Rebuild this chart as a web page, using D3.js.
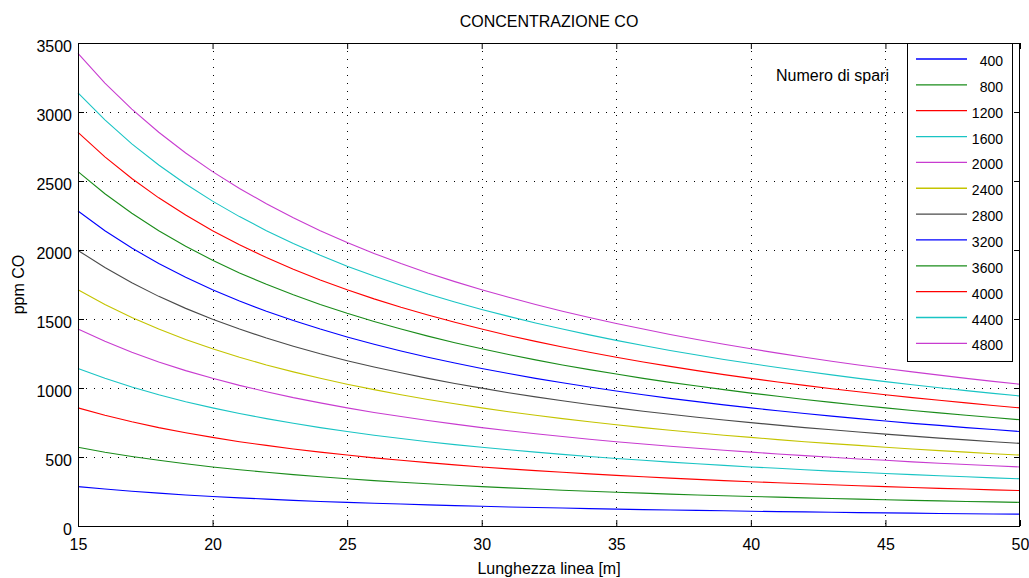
<!DOCTYPE html>
<html>
<head>
<meta charset="utf-8">
<script src="https://cdn.jsdelivr.net/npm/d3@7"></script>
<style>
  body { margin: 0; background: #fff; }
  svg { display: block; font-family: "Liberation Sans", Arial, sans-serif; }
</style>
</head>
<body>
<script>
// lunghezza linea [m]
const lengths = [15, 16, 17, 18, 19, 20, 21, 22, 23, 24, 25, 26, 27, 28, 29, 30, 31, 32, 33, 34,
                 35, 36, 37, 38, 39, 40, 41, 42, 43, 44, 45, 46, 47, 48, 49, 50];

// numero di spari (legend labels)
const shots = ['400', '800', '1200', '1600', '2000', '2400', '2800', '3200', '3600', '4000', '4400', '4800'];

// ppm CO, one array per numero di spari
const co400  = [285, 268, 252, 238, 225, 214, 204, 195, 186, 178, 171, 165, 159, 153, 148, 143, 138, 134, 130, 126, 122, 119, 116, 113, 110, 107, 104, 102, 100, 97, 95, 93, 91, 89, 87, 86];
const co800  = [571, 535, 504, 476, 451, 428, 408, 389, 372, 357, 342, 329, 317, 306, 295, 285, 276, 268, 259, 252, 245, 238, 231, 225, 219, 214, 209, 204, 199, 195, 190, 186, 182, 178, 175, 171];
const co1200 = [856, 803, 755, 713, 676, 642, 611, 584, 558, 535, 514, 494, 476, 459, 443, 428, 414, 401, 389, 378, 367, 357, 347, 338, 329, 321, 313, 306, 299, 292, 285, 279, 273, 268, 262, 257];
const co1600 = [1141, 1070, 1007, 951, 901, 856, 815, 778, 744, 713, 685, 658, 634, 611, 590, 571, 552, 535, 519, 504, 489, 476, 463, 451, 439, 428, 418, 408, 398, 389, 380, 372, 364, 357, 349, 342];
const co2000 = [1427, 1338, 1259, 1189, 1126, 1070, 1019, 973, 930, 892, 856, 823, 793, 764, 738, 713, 690, 669, 648, 629, 611, 594, 578, 563, 549, 535, 522, 510, 498, 486, 476, 465, 455, 446, 437, 428];
const co2400 = [1712, 1605, 1511, 1427, 1352, 1284, 1223, 1167, 1117, 1070, 1027, 988, 951, 917, 886, 856, 828, 803, 778, 755, 734, 713, 694, 676, 658, 642, 626, 611, 597, 584, 571, 558, 546, 535, 524, 514];
const co2800 = [1997, 1873, 1762, 1664, 1577, 1498, 1427, 1362, 1303, 1248, 1198, 1152, 1110, 1070, 1033, 999, 966, 936, 908, 881, 856, 832, 810, 788, 768, 749, 731, 713, 697, 681, 666, 651, 637, 624, 611, 599];
const co3200 = [2283, 2140, 2014, 1902, 1802, 1712, 1630, 1556, 1489, 1427, 1370, 1317, 1268, 1223, 1181, 1141, 1105, 1070, 1038, 1007, 978, 951, 925, 901, 878, 856, 835, 815, 796, 778, 761, 744, 729, 713, 699, 685];
const co3600 = [2568, 2408, 2266, 2140, 2027, 1926, 1834, 1751, 1675, 1605, 1541, 1482, 1427, 1376, 1328, 1284, 1243, 1204, 1167, 1133, 1101, 1070, 1041, 1014, 988, 963, 940, 917, 896, 875, 856, 837, 820, 803, 786, 770];
const co4000 = [2853, 2675, 2518, 2378, 2253, 2140, 2038, 1945, 1861, 1783, 1712, 1646, 1585, 1529, 1476, 1427, 1381, 1338, 1297, 1259, 1223, 1189, 1157, 1126, 1097, 1070, 1044, 1019, 995, 973, 951, 930, 911, 892, 873, 856];
const co4400 = [3139, 2943, 2769, 2616, 2478, 2354, 2242, 2140, 2047, 1962, 1883, 1811, 1744, 1681, 1623, 1569, 1519, 1471, 1427, 1385, 1345, 1308, 1272, 1239, 1207, 1177, 1148, 1121, 1095, 1070, 1046, 1023, 1002, 981, 961, 942];
const co4800 = [3424, 3210, 3021, 2853, 2703, 2568, 2446, 2335, 2233, 2140, 2054, 1975, 1902, 1834, 1771, 1712, 1657, 1605, 1556, 1511, 1467, 1427, 1388, 1352, 1317, 1284, 1253, 1223, 1194, 1167, 1141, 1117, 1093, 1070, 1048, 1027];

const xTicks = [15, 20, 25, 30, 35, 40, 45, 50];
const yTicks = [0, 500, 1000, 1500, 2000, 2500, 3000, 3500];

const allSeries = [co400, co800, co1200, co1600, co2000, co2400, co2800, co3200, co3600, co4000, co4400, co4800];

// old matlab line order
const colors = ['#0000ff', '#1a8c1a', '#ff0000', '#19c4c4', '#c83cd0', '#c4c400', '#4a4a4a'];

const W = 1029, H = 578;
const margin = { top: 43, right: 9, bottom: 52, left: 78 };
const width = W - margin.left - margin.right,
      height = H - margin.top - margin.bottom;

const svg = d3.select('body').append('svg')
    .attr('width', W)
    .attr('height', H);

const g = svg.append('g')
    .attr('transform', `translate(${margin.left},${margin.top})`);

const x = d3.scaleLinear().domain([15, 50]).range([0, width]);
const y = d3.scaleLinear().domain([0, 3500]).range([height, 0]);

// grid
const grid = g.append('g').attr('stroke', '#000').attr('stroke-width', 1)
    .attr('stroke-dasharray', '1,7').attr('shape-rendering', 'crispEdges');
grid.selectAll('.gx').data(xTicks.slice(1, -1)).enter().append('line')
    .attr('x1', d => Math.round(x(d)) + 0.5).attr('x2', d => Math.round(x(d)) + 0.5)
    .attr('y1', 0).attr('y2', height);
grid.selectAll('.gy').data(yTicks.slice(1, -1)).enter().append('line')
    .attr('y1', d => Math.round(y(d)) + 0.5).attr('y2', d => Math.round(y(d)) + 0.5)
    .attr('x1', 0).attr('x2', width);

// series
const line = d3.line()
    .x((d, i) => x(lengths[i]))
    .y(d => y(d));

g.append('g').selectAll('path')
    .data(allSeries)
    .enter().append('path')
    .attr('fill', 'none')
    .attr('stroke', (d, i) => colors[i % colors.length])
    .attr('stroke-width', 1.1)
    .attr('d', line);

// axes, matlab style: ticks inward, mirrored
const tickLen = 6;
const axisStyle = sel => {
  sel.select('.domain').remove();
  sel.selectAll('.tick line').attr('stroke', '#000');
  sel.selectAll('.tick text').attr('fill', '#000').style('font-size', '16px');
};

g.append('g')
    .attr('transform', `translate(0,${height})`)
    .call(d3.axisBottom(x).tickValues(xTicks).tickSize(-tickLen).tickPadding(13))
    .call(axisStyle);
g.append('g')
    .call(d3.axisTop(x).tickValues(xTicks).tickSize(-tickLen).tickFormat(''))
    .call(axisStyle);
g.append('g')
    .call(d3.axisLeft(y).tickValues(yTicks).tickSize(-tickLen).tickPadding(6).tickFormat(d3.format('d')))
    .call(axisStyle)
    .call(a => a.selectAll('.tick text').attr('dy', '0.55em'));
g.append('g')
    .attr('transform', `translate(${width},0)`)
    .call(d3.axisRight(y).tickValues(yTicks).tickSize(-tickLen).tickFormat(''))
    .call(axisStyle);

g.append('rect')
    .attr('x', 0.5).attr('y', 0.5)
    .attr('width', width - 1).attr('height', height)
    .attr('fill', 'none').attr('stroke', '#000').attr('stroke-width', 1);

// legend
const legend = g.append('g').attr('transform', `translate(${907 - margin.left},0)`);
legend.append('rect')
    .attr('x', 0.5).attr('y', 0.5)
    .attr('width', 105).attr('height', 318)
    .attr('fill', '#fff').attr('stroke', '#000');
const items = legend.selectAll('.item').data(shots).enter().append('g')
    .attr('transform', (d, i) => `translate(0,${16 + i * 25.85})`);
items.append('line')
    .attr('x1', 9).attr('x2', 60).attr('y1', 0).attr('y2', 0)
    .attr('stroke', (d, i) => colors[i % colors.length]).attr('stroke-width', 1.3);
items.append('text')
    .attr('x', 96).attr('y', 7)
    .attr('text-anchor', 'end')
    .style('font-size', '14px')
    .text(d => d);

g.append('text')
    .attr('x', 889 - margin.left).attr('y', 81 - margin.top)
    .attr('text-anchor', 'end')
    .style('font-size', '16px')
    .text('Numero di spari');

// labels
svg.append('text')
    .attr('x', margin.left + width / 2).attr('y', 27)
    .attr('text-anchor', 'middle')
    .style('font-size', '16px')
    .text('CONCENTRAZIONE CO');

svg.append('text')
    .attr('x', margin.left + width / 2).attr('y', 574)
    .attr('text-anchor', 'middle')
    .style('font-size', '16px')
    .text('Lunghezza linea [m]');

svg.append('text')
    .attr('transform', `translate(24,${margin.top + height / 2}) rotate(-90)`)
    .attr('text-anchor', 'middle')
    .style('font-size', '16px')
    .text('ppm CO');
</script>
</body>
</html>
